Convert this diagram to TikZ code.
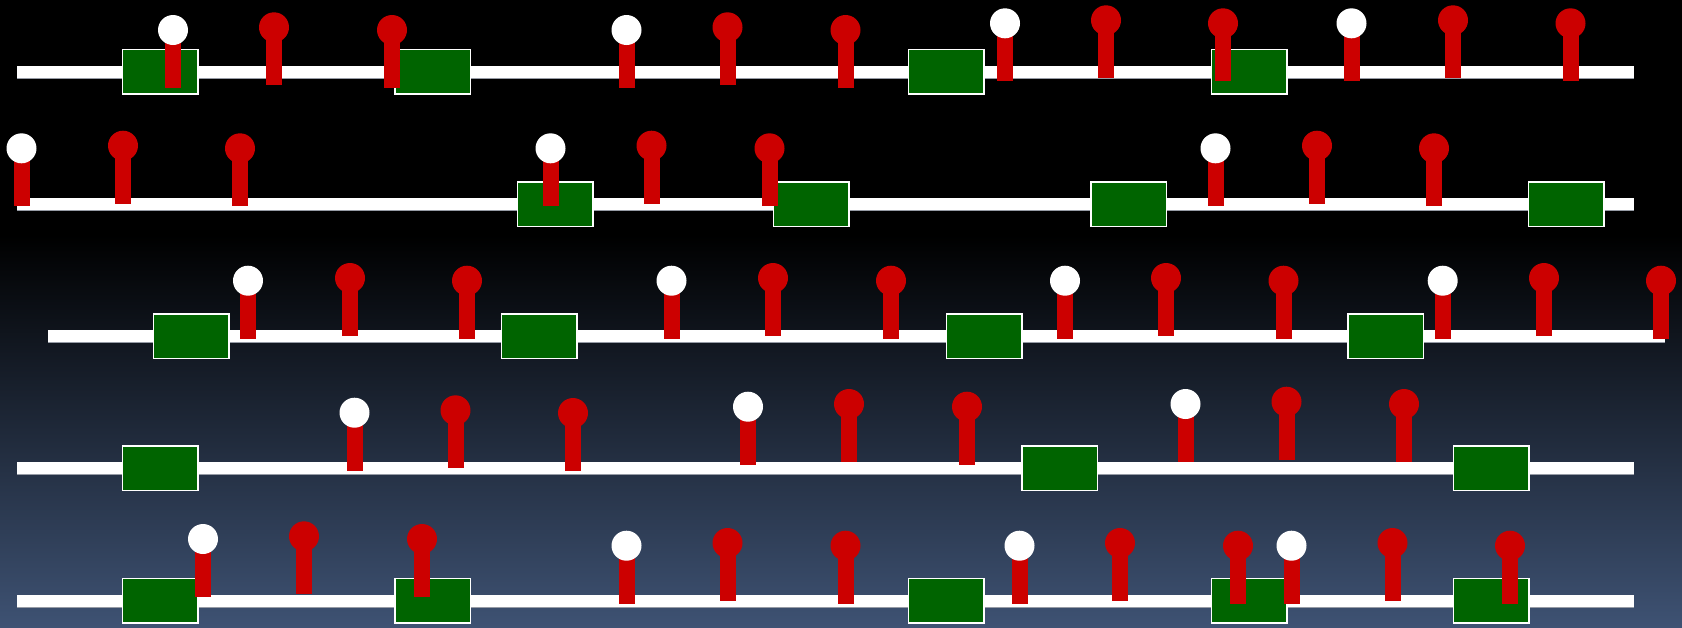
\documentclass[tikz,border=0pt]{standalone}
\definecolor{boxgreen}{RGB}{0,100,0}
\definecolor{pinred}{RGB}{204,0,0}
\definecolor{bgmid}{RGB}{26,32,47}
\definecolor{bgbot}{RGB}{62,82,115}
\definecolor{railedge}{RGB}{150,155,165}
\tikzset{
  rail/.style={line width=12pt, white, preaction={draw=railedge, line width=13pt}},
  gbox/.style={rectangle, fill=boxgreen, draw=white, line width=1.5pt,
    minimum width=75.5pt, minimum height=44.5pt, inner sep=0pt, outer sep=0pt},
  ball/.style={circle, inner sep=0pt, minimum size=30pt, fill=#1},
  stemfill/.style={fill=pinred},
}
\newcommand\pinat[4]{%
  \fill[stemfill] ({#2-8},{#3}) rectangle ({#2+8},{#3+58});
  \node[ball=#4] (#1) at (#2,#3) {};}
\begin{document}
\begin{tikzpicture}[x=1pt,y=-1pt]
\useasboundingbox (0,0) rectangle (1682,627);
\fill[black] (0,0) rectangle (1682,627);
\shade[top color=black, middle color=bgmid, bottom color=bgbot] (0,235) rectangle (1682,627);

% rails
\coordinate (r1a) at (17,72);     \coordinate (r1b) at (1634,72);
\coordinate (r2a) at (17,204);    \coordinate (r2b) at (1634,204);
\coordinate (r3a) at (48,336.3);  \coordinate (r3b) at (1665,336.3);
\coordinate (r4a) at (17,468.3);  \coordinate (r4b) at (1634,468.3);
\coordinate (r5a) at (17,601);    \coordinate (r5b) at (1634,601);
\draw[rail] (r1a) -- (r1b);
\draw[rail] (r2a) -- (r2b);
\draw[rail] (r3a) -- (r3b);
\draw[rail] (r4a) -- (r4b);
\draw[rail] (r5a) -- (r5b);

% boxes
\node[gbox] (b11) at (160,71.7) {};
\node[gbox] (b12) at (432.5,71.7) {};
\node[gbox] (b13) at (946,71.7) {};
\node[gbox] (b14) at (1249,71.7) {};

\node[gbox] (b21) at (555,204) {};
\node[gbox] (b22) at (811,204) {};
\node[gbox] (b23) at (1128.5,204) {};
\node[gbox] (b24) at (1566,204) {};

\node[gbox] (b31) at (191,336) {};
\node[gbox] (b32) at (539,336) {};
\node[gbox] (b33) at (984,336) {};
\node[gbox] (b34) at (1385.5,336) {};

\node[gbox] (b41) at (160,468.3) {};
\node[gbox] (b42) at (1059.5,468.3) {};
\node[gbox] (b43) at (1491,468.3) {};

\node[gbox] (b51) at (160,600.7) {};
\node[gbox] (b52) at (432.5,600.7) {};
\node[gbox] (b53) at (946,600.7) {};
\node[gbox] (b54) at (1249,600.7) {};
\node[gbox] (b55) at (1491,600.7) {};

% pins row 1
\pinat{p101}{173}{30}{white}
\pinat{p102}{274}{27.3}{pinred}
\pinat{p103}{392}{30}{pinred}
\pinat{p104}{626.5}{30}{white}
\pinat{p105}{727.5}{27.3}{pinred}
\pinat{p106}{845.5}{30}{pinred}
\pinat{p107}{1005}{23.3}{white}
\pinat{p108}{1106}{20.3}{pinred}
\pinat{p109}{1223}{23.3}{pinred}
\pinat{p110}{1351.5}{23.3}{white}
\pinat{p111}{1453}{20.3}{pinred}
\pinat{p112}{1570.5}{23.3}{pinred}

% pins row 2
\pinat{p201}{21.5}{148.3}{white}
\pinat{p202}{123}{145.7}{pinred}
\pinat{p203}{240}{148.3}{pinred}
\pinat{p204}{550.5}{148.3}{white}
\pinat{p205}{651.5}{145.7}{pinred}
\pinat{p206}{769.5}{148.3}{pinred}
\pinat{p207}{1215.5}{148.3}{white}
\pinat{p208}{1317}{145.7}{pinred}
\pinat{p209}{1434}{148.3}{pinred}

% pins row 3
\pinat{p301}{248}{280.7}{white}
\pinat{p302}{350}{278}{pinred}
\pinat{p303}{467}{280.7}{pinred}
\pinat{p304}{671.5}{280.7}{white}
\pinat{p305}{773}{278}{pinred}
\pinat{p306}{891}{280.7}{pinred}
\pinat{p307}{1065}{280.7}{white}
\pinat{p308}{1166}{278}{pinred}
\pinat{p309}{1283.5}{280.7}{pinred}
\pinat{p310}{1442.7}{280.7}{white}
\pinat{p311}{1544}{278}{pinred}
\pinat{p312}{1661}{280.7}{pinred}

% pins row 4
\pinat{p401}{354.5}{412.7}{white}
\pinat{p402}{455.5}{410.3}{pinred}
\pinat{p403}{573}{413}{pinred}
\pinat{p404}{748}{406.7}{white}
\pinat{p405}{849}{404}{pinred}
\pinat{p406}{967}{406.7}{pinred}
\pinat{p407}{1185.5}{404}{white}
\pinat{p408}{1286.5}{401.7}{pinred}
\pinat{p409}{1404}{404}{pinred}

% pins row 5
\pinat{p501}{203}{539}{white}
\pinat{p502}{304}{536.3}{pinred}
\pinat{p503}{422}{539}{pinred}
\pinat{p504}{626.5}{545.7}{white}
\pinat{p505}{727.5}{543}{pinred}
\pinat{p506}{845.5}{545.7}{pinred}
\pinat{p507}{1019.5}{545.7}{white}
\pinat{p508}{1120}{543}{pinred}
\pinat{p509}{1238}{545.7}{pinred}
\pinat{p510}{1291.5}{545.7}{white}
\pinat{p511}{1392.5}{543}{pinred}
\pinat{p512}{1510}{545.7}{pinred}
\end{tikzpicture}
\end{document}
